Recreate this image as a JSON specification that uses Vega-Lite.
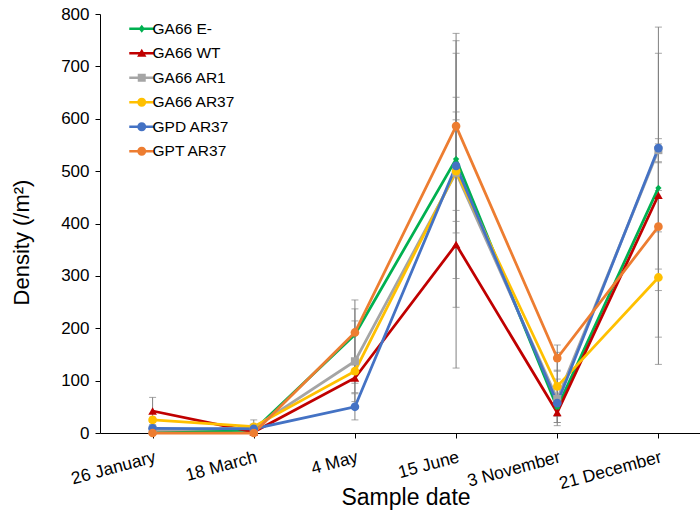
{
  "$schema": "https://vega.github.io/schema/vega-lite/v6.json",
  "width": 611,
  "height": 419,
  "autosize": {"type": "none"},
  "padding": {"left": 100, "top": 14, "right": 0, "bottom": 81},
  "background": "white",
  "config": {
    "view": {"stroke": null},
    "font": "Liberation Sans",
    "axis": {
      "domainColor": "#000000",
      "tickColor": "#000000",
      "labelColor": "#000000",
      "titleColor": "#000000",
      "titleFontWeight": "normal",
      "grid": false,
      "tickSize": 5,
      "labelFontSize": 17,
      "titleFontSize": 23
    },
    "legend": {
      "title": null,
      "orient": "none",
      "legendX": 34,
      "legendY": 7,
      "labelFontSize": 15.5,
      "labelColor": "#000000",
      "labelOffset": 3,
      "rowPadding": 7.5,
      "padding": 0,
      "symbolSize": 156
    }
  },
  "data": {
    "values": [
      {"date": "26 January", "series": "GA66 E-", "value": 3, "lo": 1, "hi": 5},
      {"date": "18 March", "series": "GA66 E-", "value": 5, "lo": 2, "hi": 8},
      {"date": "4 May", "series": "GA66 E-", "value": 188, "lo": 139, "hi": 237},
      {"date": "15 June", "series": "GA66 E-", "value": 523, "lo": 404, "hi": 641},
      {"date": "3 November", "series": "GA66 E-", "value": 48, "lo": 32, "hi": 64},
      {"date": "21 December", "series": "GA66 E-", "value": 468, "lo": 384, "hi": 552},
      {"date": "26 January", "series": "GA66 WT", "value": 42, "lo": 16, "hi": 68},
      {"date": "18 March", "series": "GA66 WT", "value": 2, "lo": 0, "hi": 4},
      {"date": "4 May", "series": "GA66 WT", "value": 105, "lo": 77, "hi": 133},
      {"date": "15 June", "series": "GA66 WT", "value": 360, "lo": 124, "hi": 598},
      {"date": "3 November", "series": "GA66 WT", "value": 39, "lo": 20, "hi": 58},
      {"date": "21 December", "series": "GA66 WT", "value": 454, "lo": 183, "hi": 725},
      {"date": "26 January", "series": "GA66 AR1", "value": 5, "lo": 2, "hi": 8},
      {"date": "18 March", "series": "GA66 AR1", "value": 10, "lo": 5, "hi": 15},
      {"date": "4 May", "series": "GA66 AR1", "value": 137, "lo": 60, "hi": 214},
      {"date": "15 June", "series": "GA66 AR1", "value": 497, "lo": 382, "hi": 613},
      {"date": "3 November", "series": "GA66 AR1", "value": 65, "lo": 20, "hi": 154},
      {"date": "21 December", "series": "GA66 AR1", "value": 540, "lo": 518, "hi": 562},
      {"date": "26 January", "series": "GA66 AR37", "value": 25, "lo": 20, "hi": 30},
      {"date": "18 March", "series": "GA66 AR37", "value": 12, "lo": 0, "hi": 25},
      {"date": "4 May", "series": "GA66 AR37", "value": 118, "lo": 95, "hi": 141},
      {"date": "15 June", "series": "GA66 AR37", "value": 500, "lo": 240, "hi": 763},
      {"date": "3 November", "series": "GA66 AR37", "value": 89, "lo": 58, "hi": 120},
      {"date": "21 December", "series": "GA66 AR37", "value": 297, "lo": 131, "hi": 463},
      {"date": "26 January", "series": "GPD AR37", "value": 9, "lo": 5, "hi": 13},
      {"date": "18 March", "series": "GPD AR37", "value": 8, "lo": 5, "hi": 11},
      {"date": "4 May", "series": "GPD AR37", "value": 50, "lo": 25, "hi": 75},
      {"date": "15 June", "series": "GPD AR37", "value": 510, "lo": 295, "hi": 725},
      {"date": "3 November", "series": "GPD AR37", "value": 57, "lo": 14, "hi": 103},
      {"date": "21 December", "series": "GPD AR37", "value": 544, "lo": 313, "hi": 775},
      {"date": "26 January", "series": "GPT AR37", "value": 0, "lo": 0, "hi": 0},
      {"date": "18 March", "series": "GPT AR37", "value": 0, "lo": 0, "hi": 0},
      {"date": "4 May", "series": "GPT AR37", "value": 192, "lo": 130, "hi": 254},
      {"date": "15 June", "series": "GPT AR37", "value": 586, "lo": 425, "hi": 749},
      {"date": "3 November", "series": "GPT AR37", "value": 143, "lo": 118, "hi": 168},
      {"date": "21 December", "series": "GPT AR37", "value": 394, "lo": 272, "hi": 516}
    ]
  },
  "encoding": {
    "x": {
      "field": "date",
      "type": "ordinal",
      "sort": ["26 January", "18 March", "4 May", "15 June", "3 November", "21 December"],
      "scale": {"type": "point", "padding": 0.52},
      "axis": {
        "title": "Sample date",
        "labelAngle": -15,
        "labelAlign": "right",
        "labelBaseline": "top",
        "labelPadding": 10,
        "labelFontSize": 17.5,
        "titleBaseline": "middle",
        "titleY": 64
      }
    }
  },
  "layer": [
    {
      "mark": {"type": "rule", "color": "#808080", "strokeWidth": 1},
      "encoding": {
        "y": {"field": "lo", "type": "quantitative"},
        "y2": {"field": "hi"}
      }
    },
    {
      "mark": {"type": "tick", "color": "#808080", "size": 7, "thickness": 1},
      "encoding": {"y": {"field": "hi", "type": "quantitative"}}
    },
    {
      "mark": {"type": "tick", "color": "#808080", "size": 7, "thickness": 1},
      "encoding": {"y": {"field": "lo", "type": "quantitative"}}
    },
    {
      "mark": {"type": "line", "strokeWidth": 2.75},
      "encoding": {
        "y": {
          "field": "value",
          "type": "quantitative",
          "scale": {"domain": [0, 800], "nice": false},
          "axis": {
            "values": [0, 100, 200, 300, 400, 500, 600, 700, 800],
            "title": "Density (/m²)",
            "titleFontSize": 22,
            "titleBaseline": "middle",
            "titleX": -79,
            "titleY": 228,
            "labelPadding": 6
          }
        },
        "color": {
          "field": "series",
          "type": "nominal",
          "scale": {
            "domain": ["GA66 E-", "GA66 WT", "GA66 AR1", "GA66 AR37", "GPD AR37", "GPT AR37"],
            "range": ["#00B050", "#C00000", "#A5A5A5", "#FFC000", "#4472C4", "#ED7D31"]
          },
          "legend": {
            "encode": {
              "symbols": {
                "update": {
                  "shape": {"signal": "datum.value==='GA66 E-'?'M-2,-0.22H2V0.22H-2ZM0,-0.64L0.5,0L0,0.64L-0.5,0Z':datum.value==='GA66 WT'?'M-2,-0.22H2V0.22H-2ZM0,-0.72L0.75,0.56L-0.75,0.56Z':datum.value==='GA66 AR1'?'M-2,-0.22H2V0.22H-2ZM-0.64,-0.64H0.64V0.64H-0.64Z':'M-2,-0.22H2V0.22H-2ZM-0.72,0A0.72,0.72,0,1,1,0.72,0A0.72,0.72,0,1,1,-0.72,0Z'"},
                  "fill": {"signal": "scale('color', datum.value)"},
                  "size": {"value": 156},
                  "strokeWidth": {"value": 0},
                  "opacity": {"value": 1}
                }
              }
            }
          }
        },
        "detail": {"field": "series"}
      }
    },
    {
      "mark": {"type": "point", "filled": true, "opacity": 1},
      "encoding": {
        "y": {"field": "value", "type": "quantitative"},
        "color": {"field": "series", "type": "nominal"},
        "shape": {
          "condition": [
            {"test": "datum.series === 'GA66 E-'", "value": "diamond"},
            {"test": "datum.series === 'GA66 WT'", "value": "triangle-up"},
            {"test": "datum.series === 'GA66 AR1'", "value": "square"}
          ],
          "value": "circle"
        },
        "size": {
          "condition": [
            {"test": "datum.series === 'GA66 E-'", "value": 40},
            {"test": "datum.series === 'GA66 AR1'", "value": 64}
          ],
          "value": 75
        }
      }
    }
  ]
}
